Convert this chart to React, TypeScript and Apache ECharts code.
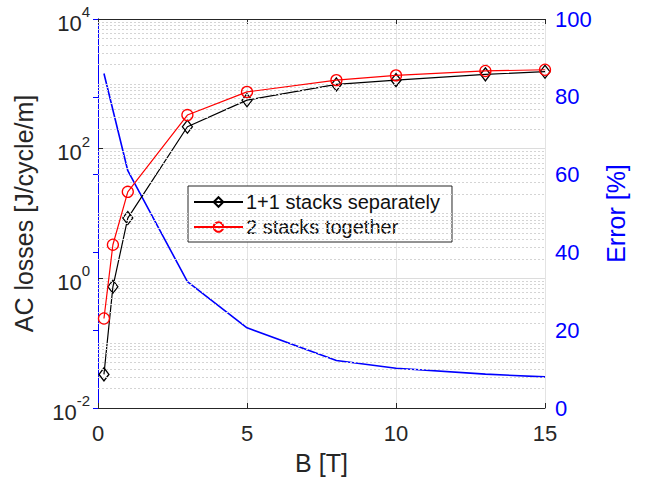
import React, { useEffect, useRef } from "react";
import * as echarts from "echarts";

const fieldB = [0.2, 0.5, 1, 3, 5, 8, 10, 13, 15];
const lossSeparate = [0.033, 0.74, 8.5, 218, 560, 980, 1140, 1400, 1540];
const lossTogether = [0.24, 3.3, 21.6, 330, 750, 1140, 1350, 1580, 1650];
const errorB = [0.2, 1, 3, 5, 8, 10, 13, 15];
const errorPct = [86, 61, 32.5, 20.6, 12.2, 10.2, 8.7, 8.0];
const minorGridValues = [
  0.02, 0.03, 0.04, 0.05, 0.06, 0.07, 0.08, 0.09, 0.1,
  0.2, 0.3, 0.4, 0.5, 0.6, 0.7, 0.8, 0.9,
  2, 3, 4, 5, 6, 7, 8, 9, 10,
  20, 30, 40, 50, 60, 70, 80, 90,
  200, 300, 400, 500, 600, 700, 800, 900, 1000,
  2000, 3000, 4000, 5000, 6000, 7000, 8000, 9000,
];
const nameSeparate = "1+1 stacks separately";
const nameTogether = "2 stacks together";

const FONT = "Liberation Sans, Arial, Helvetica, sans-serif";
const AXIS_COLOR = "#262626";
const BLUE = "#0000ff";

export default function App() {
  const ref = useRef<HTMLDivElement>(null);
  useEffect(() => {
    if (!ref.current) return;
    const chart = echarts.init(ref.current, null, { renderer: "svg" });
    const option: any = {
      animation: false,
      backgroundColor: "#ffffff",
      textStyle: { fontFamily: FONT },
      grid: { left: 98, right: 100, top: 19, bottom: 72, containLabel: false },
      legend: {
        data: [nameSeparate, nameTogether],
        orient: "vertical",
        left: 188,
        top: 186,
        padding: [6, 12, 5, 5],
        itemGap: 5,
        itemWidth: 49,
        itemHeight: 12,
        backgroundColor: "#ffffff",
        borderColor: AXIS_COLOR,
        borderWidth: 1,
        borderRadius: 0,
        textStyle: { fontSize: 20, color: "#111", fontFamily: FONT, padding: [0, 0, 0, -2] },
      },
      xAxis: [
        {
          type: "value",
          min: 0,
          max: 15,
          interval: 5,
          position: "bottom",
          axisLine: { lineStyle: { color: AXIS_COLOR, width: 1 } },
          axisTick: { inside: true, length: 5, lineStyle: { color: AXIS_COLOR } },
          axisLabel: { fontSize: 22, color: AXIS_COLOR, margin: 14, fontFamily: FONT },
          splitLine: { show: true, lineStyle: { color: "#e3e3e3", width: 1 } },
          name: "B [T]",
          nameLocation: "middle",
          nameGap: 42,
          nameTextStyle: { fontSize: 25, color: AXIS_COLOR, fontFamily: FONT },
        },
        {
          type: "value",
          min: 0,
          max: 15,
          interval: 5,
          position: "top",
          axisLine: { lineStyle: { color: AXIS_COLOR, width: 1 } },
          axisTick: { inside: true, length: 5, lineStyle: { color: AXIS_COLOR } },
          axisLabel: { show: false },
          splitLine: { show: false },
        },
      ],
      yAxis: [
        {
          type: "log",
          logBase: 10,
          min: 0.01,
          max: 10000,
          interval: 2,
          splitNumber: 3,
          position: "left",
          axisLine: { show: true, lineStyle: { color: AXIS_COLOR, width: 1 } },
          axisTick: { inside: true, length: 5, lineStyle: { color: AXIS_COLOR } },
          axisLabel: {
            margin: 8,
            color: AXIS_COLOR,
            formatter: (v: number) => `{b|10}{s|${Math.round(Math.log10(v))}}`,
            rich: {
              b: { fontSize: 22, color: AXIS_COLOR, fontFamily: FONT, verticalAlign: "bottom", lineHeight: 30 },
              s: { fontSize: 15, color: AXIS_COLOR, fontFamily: FONT, verticalAlign: "top", lineHeight: 30 },
            },
          },
          splitLine: { show: true, lineStyle: { color: "#dcdcdc", width: 1 } },
          name: "AC losses [J/cycle/m]",
          nameLocation: "middle",
          nameGap: 62,
          nameTextStyle: { fontSize: 25, color: AXIS_COLOR, fontFamily: FONT },
        },
        {
          type: "value",
          min: 0,
          max: 100,
          interval: 20,
          position: "right",
          axisLine: { show: true, lineStyle: { color: BLUE, width: 1 } },
          axisTick: { show: true, inside: true, length: 5, lineStyle: { color: BLUE } },
          axisLabel: { fontSize: 22, color: BLUE, margin: 10, fontFamily: FONT },
          splitLine: { show: false },
          name: "Error [%]",
          nameLocation: "middle",
          nameGap: 58,
          nameTextStyle: { fontSize: 25, color: BLUE, fontFamily: FONT },
        },
      ],
      series: [
        {
          name: "minor-grid",
          type: "line",
          xAxisIndex: 0,
          yAxisIndex: 0,
          data: [],
          silent: true,
          z: 0,
          markLine: {
            silent: true,
            symbol: ["none", "none"],
            label: { show: false },
            lineStyle: { color: "#d4d4d4", type: [2, 2], width: 1 },
            data: minorGridValues.map((v) => ({ yAxis: v })),
          },
        },
        {
          name: "Error",
          type: "line",
          xAxisIndex: 0,
          yAxisIndex: 1,
          data: errorB.map((b, i) => [b, errorPct[i]]),
          showSymbol: false,
          symbol: "none",
          lineStyle: { color: BLUE, width: 1.6 },
          itemStyle: { color: BLUE },
          z: 3,
        },
        {
          name: nameSeparate,
          type: "line",
          xAxisIndex: 0,
          yAxisIndex: 0,
          data: fieldB.map((b, i) => [b, lossSeparate[i]]),
          symbol: "diamond",
          symbolSize: [10, 13],
          lineStyle: { color: "#000000", width: 1.2 },
          itemStyle: { color: "rgba(0,0,0,0)", borderColor: "#000000", borderWidth: 1.3 },
          z: 4,
        },
        {
          name: nameTogether,
          type: "line",
          xAxisIndex: 0,
          yAxisIndex: 0,
          data: fieldB.map((b, i) => [b, lossTogether[i]]),
          symbol: "circle",
          symbolSize: 11,
          lineStyle: { color: "#ff0000", width: 1.2 },
          itemStyle: { color: "rgba(0,0,0,0)", borderColor: "#ff0000", borderWidth: 1.3 },
          z: 5,
        },
      ],
    };
    chart.setOption(option);
    return () => chart.dispose();
  }, []);
  return (
    <div
      ref={ref}
      style={{ position: "absolute", left: 0, top: 0, width: 645, height: 480 }}
    />
  );
}
